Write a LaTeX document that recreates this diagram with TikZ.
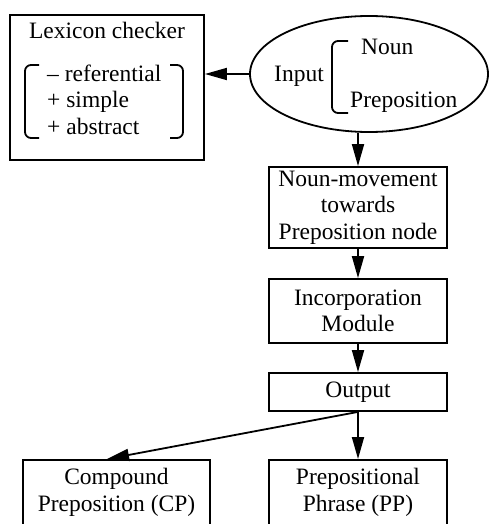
\documentclass[tikz,border=0pt]{standalone}
\usepackage{fontspec}
\setmainfont{Liberation Serif}
\usetikzlibrary{shapes.geometric,arrows.meta,calc}
\tikzset{
  txt/.style={font=\fontsize{23.5}{26.5}\selectfont, inner sep=0pt},
  box/.style={txt, draw, line width=1.8pt, align=center},
  conn/.style={line width=1.8pt, -{Triangle[length=22pt,width=12pt]}},
  brk/.style={line width=1.8pt, rounded corners=6pt},
}
\begin{document}
\begin{tikzpicture}[x=1pt,y=-1pt]
\clip (0,0) rectangle (489,524);
\fill[white] (0,0) rectangle (489,524);
% Lexicon checker
\node[box, minimum width=194pt, minimum height=145pt] (lex) at (107,87.5) {};
\node[txt, anchor=base] (lext) at (107,39) {Lexicon checker};
\node[txt, anchor=base west] (l1) at (47,82) {-- referential};
\node[txt, anchor=base west] (l2) at (47,108) {+ simple};
\node[txt, anchor=base west] (l3) at (47,135) {+ abstract};
\draw[brk] (39,65) -- (25,65) -- (25,138) -- (39,138);
\draw[brk] (170,65) -- (183,65) -- (183,138) -- (170,138);
% Input ellipse
\node[ellipse, draw, line width=1.8pt, minimum width=238pt, minimum height=116pt, inner sep=0pt] (ell) at (369,74) {};
\node[txt, anchor=base west] (inp) at (274,82) {Input};
\node[txt, anchor=base west] (noun) at (361,55) {Noun};
\node[txt, anchor=base west] (prep) at (350,108) {Preposition};
\draw[brk] (348,41) -- (332,41) -- (332,113) -- (348,113);
% Flow boxes
\node[box, minimum width=178pt, minimum height=81pt] (nm) at (358,207.5) {Noun-movement\\towards\\Preposition node};
\node[box, minimum width=178pt, minimum height=64pt] (inc) at (358,311) {Incorporation\\Module};
\node[box, minimum width=178pt, minimum height=38pt] (out) at (358,392) {Output};
\node[box, minimum width=187pt, minimum height=90pt, anchor=north] (cp) at (116.5,459) {};
\node[txt, align=center, anchor=base] (cpt) at (116.5,511) {Compound\\Preposition (CP)};
\node[box, minimum width=178pt, minimum height=90pt, anchor=north] (pp) at (358,459) {};
\node[txt, align=center, anchor=base] (ppt) at (358,511) {Prepositional\\Phrase (PP)};
% Connectors
\draw[conn] (ell.west) -- (ell.west -| lex.east);
\draw[conn] (nm.north |- ell.south) -- (nm.north);
\draw[conn] (nm.south) -- (inc.north);
\draw[conn] (inc.south) -- (out.north);
\draw[conn] (out.south) -- ($(cp.north west)!0.45!(cp.north east)$);
\draw[conn] (out.south) -- (pp.north);
\end{tikzpicture}
\end{document}
